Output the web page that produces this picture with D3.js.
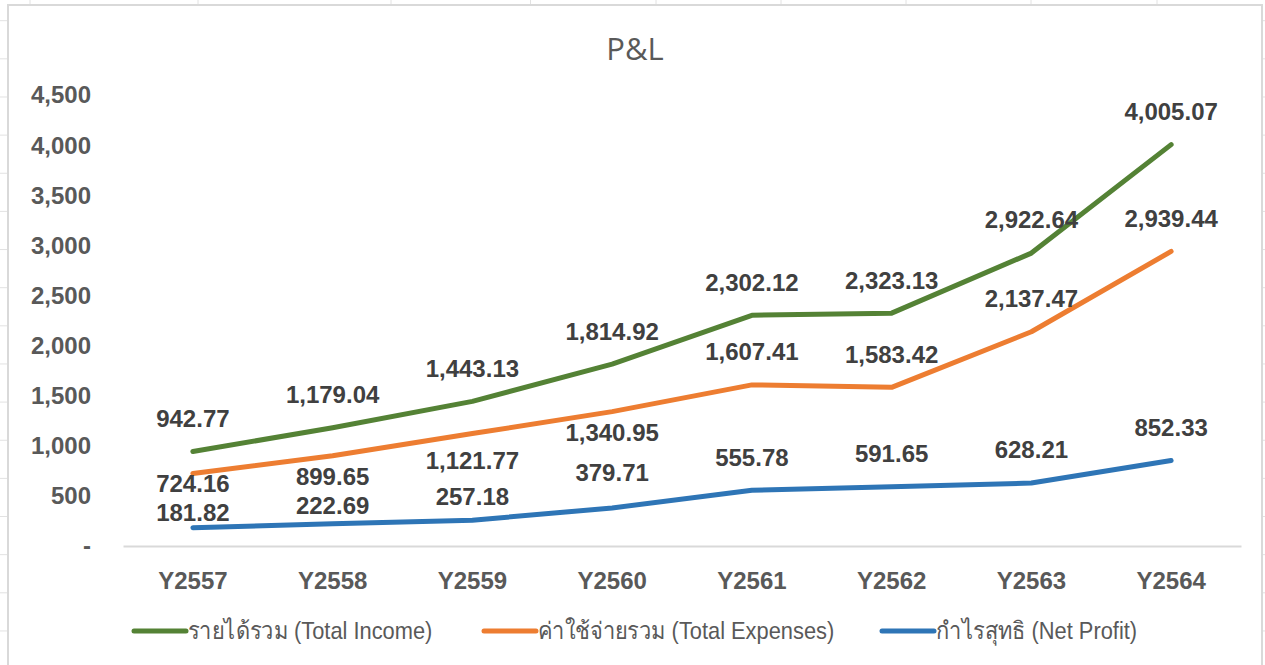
<!DOCTYPE html>
<meta charset="utf-8">
<head>
    <style>
    body { margin: 0; background: #fff; }
    .line { fill: none; stroke-width: 5px; stroke-linecap: round; stroke-linejoin: round; }
    .tick-label { font-family: "Liberation Sans", Arial, sans-serif; font-weight: bold; font-size: 24px; fill: #595959; }
    .data-label { font-family: "Liberation Sans", Arial, sans-serif; font-weight: bold; font-size: 24px; fill: #404040; }
    .legend-text { font-family: "Liberation Sans", sans-serif; font-size: 24px; fill: #595959; }
    </style>
</head>
<body>
<script src="https://cdnjs.cloudflare.com/ajax/libs/d3/7.8.5/d3.min.js"></script>
<script>
// chart values
var years = ["Y2557", "Y2558", "Y2559", "Y2560", "Y2561", "Y2562", "Y2563", "Y2564"];
var totalIncome = [942.77, 1179.04, 1443.13, 1814.92, 2302.12, 2323.13, 2922.64, 4005.07];
var totalExpenses = [724.16, 899.65, 1121.77, 1340.95, 1607.41, 1583.42, 2137.47, 2939.44];
var netProfit = [181.82, 222.69, 257.18, 379.71, 555.78, 591.65, 628.21, 852.33];
var yTicks = [0, 500, 1000, 1500, 2000, 2500, 3000, 3500, 4000, 4500];
var seriesNames = ["รายได้รวม (Total Income)", "ค่าใช้จ่ายรวม (Total Expenses)", "กำไรสุทธิ (Net Profit)"];

// label nudges (px) - some labels were dragged by hand in the original
var incomeLabelDy = [-33, -33, -33, -33, -33, -33, -33, -33];
var expensesLabelDy = [10, 21, 27, 21, -33, -33, -33, -33];
var profitLabelDy = [-15, -18, -24, -35, -33, -33, -33, -33];

var colors = ["#548235", "#ED7D31", "#2E75B6"];

var W = 1265, H = 665;
var svg = d3.select("body").append("svg")
    .attr("width", W)
    .attr("height", H);

// spreadsheet grid peeking out behind the chart
var colEdges = [30, 198, 391, 530.5, 656, 781, 906, 1031, 1157];
var grid = svg.append("g").attr("stroke", "#e2e2e2").attr("stroke-width", 1);
grid.selectAll(".gc").data(colEdges).enter().append("line")
    .attr("x1", function(d) { return d; }).attr("x2", function(d) { return d; })
    .attr("y1", 0).attr("y2", H);
grid.selectAll(".gr").data(d3.range(17)).enter().append("line")
    .attr("x1", 0).attr("x2", W)
    .attr("y1", function(d) { return 20.7 + d * 38.14; })
    .attr("y2", function(d) { return 20.7 + d * 38.14; });

// chart area
svg.append("rect")
    .attr("x", 8).attr("y", 5)
    .attr("width", 1254).attr("height", 720)
    .attr("fill", "#fff")
    .attr("stroke", "#d9d9d9")
    .attr("stroke-width", 2);

// title
svg.append("text")
    .attr("x", 635).attr("y", 60)
    .attr("text-anchor", "middle")
    .style("font-family", "'Open Sans', sans-serif")
    .style("font-size", "31px")
    .style("fill", "#595959")
    .text("P&L");

// scales
var x = d3.scaleBand().domain(years).range([123, 1241]).padding(0);
var y = d3.scaleLinear().domain([0, 4500]).range([546, 95]);
function cx(d) { return x(d) + x.bandwidth() / 2; }

// y axis labels (accounting format, zero shown as dash)
var fmt = d3.format(",");
svg.selectAll(".ylab").data(yTicks).enter().append("text")
    .attr("class", "tick-label")
    .attr("x", 91)
    .attr("y", function(d) { return y(d); })
    .attr("dy", "0.35em")
    .attr("text-anchor", "end")
    .text(function(d) { return d === 0 ? "-" : fmt(d); });

// x axis
var xAxis = svg.append("g")
    .attr("transform", "translate(0,546)")
    .call(d3.axisBottom(x).tickSize(0).tickPadding(26));
xAxis.select(".domain").attr("stroke", "#d9d9d9").attr("stroke-width", 2);
xAxis.selectAll("text")
    .attr("class", "tick-label")
    .attr("font-family", null).attr("font-size", null).attr("fill", null)
    .style("font-family", "'Liberation Sans', Arial, sans-serif")
    .style("font-weight", "bold")
    .style("font-size", "24px")
    .style("fill", "#595959");

// lines + labels
var series = [
    { values: totalIncome, dy: incomeLabelDy },
    { values: totalExpenses, dy: expensesLabelDy },
    { values: netProfit, dy: profitLabelDy }
];
var valueline = d3.line()
    .x(function(d, i) { return cx(years[i]); })
    .y(function(d) { return y(d); });
var numFmt = d3.format(",.2f");

series.forEach(function(s, k) {
    svg.append("path")
        .data([s.values])
        .attr("class", "line")
        .style("stroke", colors[k])
        .attr("d", valueline);
});
series.forEach(function(s, k) {
    svg.selectAll(".lab" + k).data(s.values).enter().append("text")
        .attr("class", "data-label")
        .attr("x", function(d, i) { return cx(years[i]); })
        .attr("y", function(d, i) { return y(d) + s.dy[i]; })
        .attr("dy", "0.35em")
        .attr("text-anchor", "middle")
        .text(function(d) { return numFmt(d); });
});

// legend (text is narrow in the original, squeeze it a bit)
var legendX = [134, 484, 882];
var leg = svg.selectAll(".leg").data(seriesNames).enter().append("g")
    .attr("transform", function(d, i) { return "translate(" + legendX[i] + ",631)"; });
leg.append("line")
    .attr("x1", 0).attr("x2", 52)
    .attr("stroke", function(d, i) { return colors[i]; })
    .attr("stroke-width", 5)
    .attr("stroke-linecap", "round");
leg.append("text")
    .attr("class", "legend-text")
    .attr("transform", "translate(54,0) scale(0.91,1)")
    .attr("dy", "0.35em")
    .text(function(d) { return d; });
</script>
</body>
